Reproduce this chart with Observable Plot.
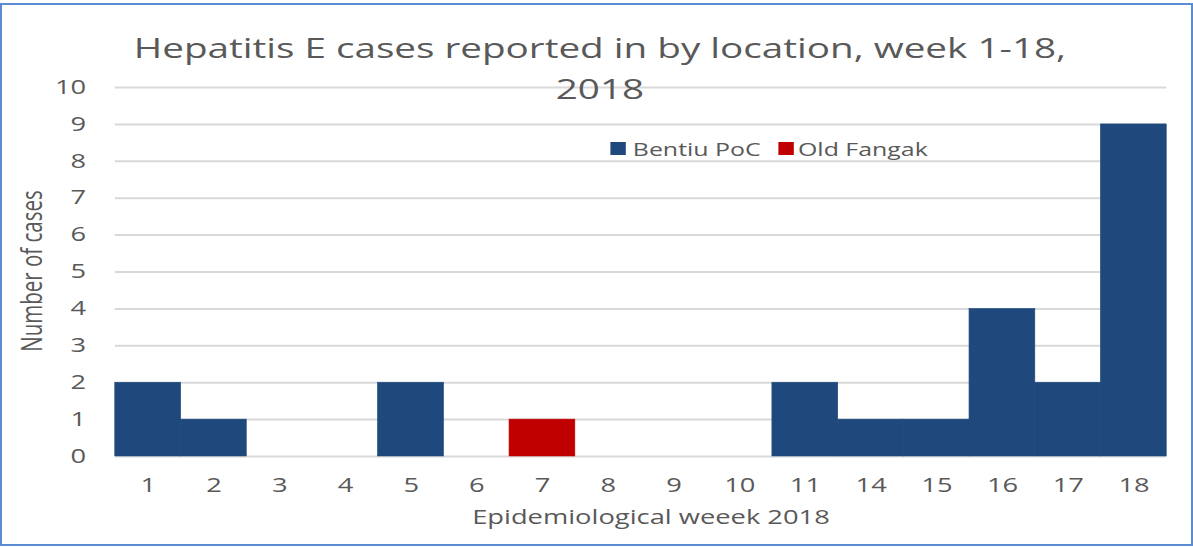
<!DOCTYPE html>
<html>
<head>
<meta charset="utf-8">
<script src="https://cdn.jsdelivr.net/npm/d3@7"></script>
<script src="https://cdn.jsdelivr.net/npm/@observablehq/plot@0.6"></script>
<style>
  html, body { margin: 0; padding: 0; background: #fff; }
  #root { position: relative; width: 1193px; height: 547px; overflow: hidden; font-family: "Open Sans", sans-serif; color: #595959; }
  #frame { position: absolute; left: 0; top: 3px; width: 1189px; height: 539px; border: 2px solid #5b8bd0; box-sizing: content-box; }
  #stretch { position: absolute; left: 0; top: 0; width: 852px; height: 547px; transform: scaleX(1.4); transform-origin: 0 0; }
  #chart { position: absolute; left: 0; top: 0; }
  #title { position: absolute; left: 0; width: 857px; top: 27px; text-align: center; font-size: 27.6px; line-height: 41px; white-space: nowrap; }
  .legtext { position: absolute; font-size: 17.8px; line-height: 20px; white-space: nowrap; }
  .sw { position: absolute; width: 11.4px; height: 13px; }
  #xlabel { position: absolute; left: 265px; width: 400px; top: 507px; text-align: center; font-size: 19.5px; line-height: 20px; white-space: nowrap; }
  #ylabel { position: absolute; width: 200px; height: 20px; left: -77.6px; top: 260.5px; text-align: center; font-size: 20.5px; line-height: 20px; white-space: nowrap; transform: rotate(-90deg); transform-origin: 50% 50%; }
</style>
</head>
<body>
<div id="root">
  <div id="frame"></div>
  <div id="stretch">
    <div id="chart"></div>
    <div id="title"></div>
    <div id="legend"></div>
    <div id="xlabel"></div>
    <div id="ylabel"></div>
  </div>
</div>
<script>
const weeks = ["1","2","3","4","5","6","7","8","9","10","11","14","15","16","17","18"];
const bentiuPoC = [2,1,0,0,2,0,0,0,0,0,2,1,1,4,2,9];
const oldFangak = [0,0,0,0,0,0,1,0,0,0,0,0,0,0,0,0];
const seriesNames = ["Bentiu PoC","Old Fangak"];
const seriesColors = ["#1f497d","#c00000"];
const yTicks = [0,1,2,3,4,5,6,7,8,9,10];
const titleLines = ["Hepatitis E cases reported in by location, week 1-18,", "2018"];
const xTitle = "Epidemiological  weeek 2018";
const yTitle = "Number of cases";

const data = weeks.flatMap((w, i) => [
  {week: w, series: seriesNames[0], value: bentiuPoC[i]},
  {week: w, series: seriesNames[1], value: oldFangak[i]}
]).filter(d => d.value > 0);

const chart = Plot.plot({
  width: 852,
  height: 547,
  marginLeft: 82,
  marginRight: 19,
  marginTop: 87,
  marginBottom: 91,
  style: {fontFamily: "Open Sans, sans-serif", fontSize: "19.5px", color: "#595959", background: "transparent"},
  x: {domain: weeks, padding: 0, round: false, label: null, tickSize: 0, tickPadding: 22},
  y: {domain: [0, 10], ticks: yTicks, label: null, tickSize: 0, tickPadding: 21},
  color: {domain: seriesNames, range: seriesColors},
  marks: [
    Plot.ruleY(yTicks, {stroke: "#d9d9d9", strokeWidth: 2}),
    Plot.barY(data, {x: "week", y: "value", fill: "series", stroke: "series", strokeWidth: 0.5, inset: 0})
  ]
});
document.getElementById("chart").appendChild(chart);

document.getElementById("title").innerHTML = titleLines.join("<br>");
document.getElementById("xlabel").textContent = xTitle;
document.getElementById("ylabel").textContent = yTitle;

const legend = document.getElementById("legend");
const swX = [435.7, 555.7];
const txX = [452, 570];
seriesNames.forEach((name, i) => {
  const sw = document.createElement("div");
  sw.className = "sw";
  sw.style.left = swX[i] + "px";
  sw.style.top = "142px";
  sw.style.background = seriesColors[i];
  legend.appendChild(sw);
  const t = document.createElement("div");
  t.className = "legtext";
  t.style.left = txX[i] + "px";
  t.style.top = "139.4px";
  t.textContent = name;
  legend.appendChild(t);
});
</script>
</body>
</html>
